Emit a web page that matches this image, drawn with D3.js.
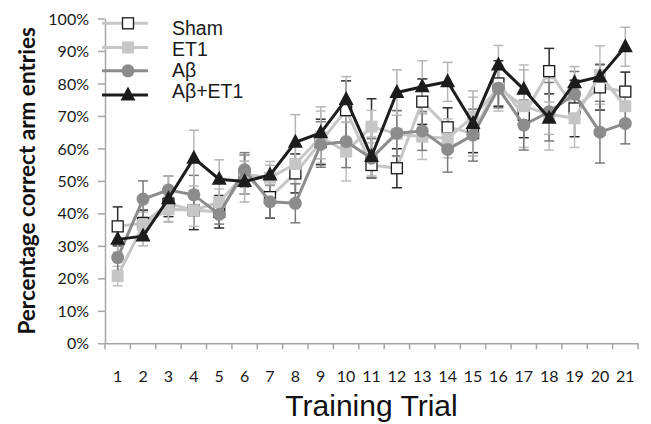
<!DOCTYPE html>
<html>
<head>
<meta charset="utf-8">
<script src="https://cdn.jsdelivr.net/npm/d3@7/dist/d3.min.js"></script>
<style>
  body { margin: 0; background: #fff; }
  svg { display: block; }
  .tickLabel { font-family: Lato, "Open Sans", sans-serif; font-size: 16px; fill: #1a1a1a; }
</style>
</head>
<body>
<svg id="chart" width="651" height="424"></svg>
<script>
// trials on the x axis
let trials = d3.range(1, 22).map(String);

// percentage correct arm entries (means) per group
let sham   = [36, 37, 43, 41, 40.5, 52, 45, 52.3, 62, 71.8, 54.9, 53.9, 74.4, 66.5, 64.7, 80, 70.3, 83.8, 72.3, 78.8, 77.5];
let et1    = [20.7, 36.4, 41.3, 41, 43.5, 52, 51, 55.2, 63.5, 59, 66.7, 64.5, 63.6, 63.1, 69.8, 78.5, 73, 70.5, 69.3, 82.6, 73];
let ab     = [26.4, 44.4, 47.2, 45.7, 39.7, 53.4, 43.6, 43.1, 61.2, 62.1, 57, 64.7, 65.4, 59.7, 64.1, 78.5, 67.2, 71.3, 76.7, 65, 67.7];
let abEt1  = [32, 33, 44.5, 57, 50.5, 49.8, 51.8, 61.9, 64.8, 75.1, 57.5, 77.2, 79, 80.5, 67.7, 85.7, 78.2, 69.3, 80.2, 82.1, 91.3];

// error bars (SEM); sham has an uneven bar at trial 11
let shamErrUp   = [6, 4, 4, 6, 5, 6, 6.5, 6, 7, 9, 20.4, 6, 7, 6, 6, 7, 7, 7, 8.7, 7, 6];
let shamErrDown = [6, 4, 4, 6, 5, 6, 6.5, 6, 7, 9, 4, 6, 7, 6, 6, 7, 7, 7, 8.7, 7, 6];
let et1Err   = [3, 4, 4, 5, 4, 6, 5, 6, 8, 9, 5, 7, 7, 6, 6, 7, 12.7, 11, 9, 9, 6];
let abErr    = [4, 5.6, 4.3, 6, 3, 5.3, 5, 6, 7, 8, 6, 7, 6, 7, 8, 6, 7.7, 9, 7, 9.5, 6.3];
let abEt1Err = [4, 3, 7, 8.6, 6, 6.3, 3, 8.5, 8, 7, 6, 7, 8, 6, 10, 6, 6, 5, 5, 4, 6];

let yTicks = d3.range(0, 101, 10);

let series = [
  {name: 'Sham',   values: sham,  up: shamErrUp, down: shamErrDown, line: '#c6c6c6', bar: '#2b2b2b', marker: 'squareOpen'},
  {name: 'ET1',    values: et1,   up: et1Err,   down: et1Err,   line: '#c6c6c6', bar: '#bdbdbd', marker: 'square'},
  {name: 'A\u03b2',     values: ab,    up: abErr,    down: abErr,    line: '#8c8c8c', bar: '#7a7a7a', marker: 'circle'},
  {name: 'A\u03b2+ET1', values: abEt1, up: abEt1Err, down: abEt1Err, line: '#1c1c1c', bar: '#b5b5b5', marker: 'triangle'}
];

let margin = {left: 105, right: 13, top: 18.5, bottom: 80.7};
let width = 651 - margin.left - margin.right,
    height = 424 - margin.top - margin.bottom;

let svg = d3.select('#chart');
let g = svg.append('g').attr('transform', 'translate(' + margin.left + ',' + margin.top + ')');

let x = d3.scaleBand().domain(trials).range([0, width]).padding(0);
let y = d3.scaleLinear().domain([0, 100]).range([height, 0]);
let cx = function(d) { return x(d) + x.bandwidth() / 2; };

// y axis
let yAxis = g.append('g')
  .call(d3.axisLeft(y).tickValues(yTicks).tickSize(7).tickSizeOuter(0).tickFormat(d => d + '%'));
yAxis.select('.domain').attr('stroke', '#a6a6a6').attr('stroke-width', 1.5);
yAxis.selectAll('.tick line').attr('stroke', '#a6a6a6').attr('stroke-width', 1.5);
yAxis.selectAll('.tick text').attr('class', 'tickLabel').attr('x', -16).attr('dy', '0.35em');

// x axis: labels centred in band, tick marks on band edges
let xAxis = g.append('g').attr('transform', 'translate(0,' + height + ')')
  .call(d3.axisBottom(x).tickSize(0).tickSizeOuter(0));
xAxis.select('.domain').attr('stroke', '#a6a6a6').attr('stroke-width', 1.5);
xAxis.selectAll('.tick text').attr('class', 'tickLabel').attr('y', 33).attr('dy', '0.35em');
let edges = trials.map(d => x(d)).concat([width]);
xAxis.selectAll('.edge').data(edges).enter().append('line')
  .attr('x1', d => d).attr('x2', d => d)
  .attr('y1', 0).attr('y2', 6)
  .attr('stroke', '#a6a6a6').attr('stroke-width', 1.5);

// error bars first
series.forEach(function(s) {
  let eg = g.append('g');
  trials.forEach(function(t, i) {
    let v = s.values[i];
    let lo = v - s.down[i], hi = v + s.up[i];
    let px = cx(t);
    eg.append('line').attr('x1', px).attr('x2', px)
      .attr('y1', y(lo)).attr('y2', y(hi))
      .attr('stroke', s.bar).attr('stroke-width', 1.5);
    [lo, hi].forEach(function(c) {
      eg.append('line').attr('x1', px - 5).attr('x2', px + 5)
        .attr('y1', y(c)).attr('y2', y(c))
        .attr('stroke', s.bar).attr('stroke-width', 1.5);
    });
  });
});

function drawMarker(sel, type, px, py) {
  if (type == 'squareOpen') {
    sel.append('rect').attr('x', px - 5.5).attr('y', py - 5.5).attr('width', 11).attr('height', 11)
      .attr('fill', '#fff').attr('stroke', '#1a1a1a').attr('stroke-width', 1.3);
  } else if (type == 'square') {
    sel.append('rect').attr('x', px - 6).attr('y', py - 6).attr('width', 12).attr('height', 12)
      .attr('fill', '#c6c6c6');
  } else if (type == 'circle') {
    sel.append('circle').attr('cx', px).attr('cy', py).attr('r', 6.5).attr('fill', '#8c8c8c');
  } else {
    sel.append('path')
      .attr('d', 'M' + px + ',' + (py - 8.5) + 'L' + (px + 7.5) + ',' + (py + 5.5) + 'L' + (px - 7.5) + ',' + (py + 5.5) + 'Z')
      .attr('fill', '#1c1c1c');
  }
}

let line = d3.line().x(d => cx(d[0])).y(d => y(d[1]));

series.forEach(function(s) {
  let sg = g.append('g');
  sg.append('path')
    .datum(trials.map((t, i) => [t, s.values[i]]))
    .attr('d', line)
    .attr('fill', 'none')
    .attr('stroke', s.line)
    .attr('stroke-width', 3)
    .attr('stroke-linejoin', 'round');
  trials.forEach(function(t, i) {
    drawMarker(sg, s.marker, cx(t), y(s.values[i]));
  });
});

// legend
let legLines = [23.3, 47.5, 70.8, 95];
let legText = [34.5, 56, 76.5, 98];
let legend = svg.append('g');
series.forEach(function(s, i) {
  legend.append('line').attr('x1', 102).attr('x2', 148)
    .attr('y1', legLines[i]).attr('y2', legLines[i])
    .attr('stroke', s.line).attr('stroke-width', 3);
  drawMarker(legend, s.marker, 128, legLines[i]);
  legend.append('text')
    .attr('x', 172).attr('y', legText[i])
    .attr('font-family', '"Liberation Sans", Arial, sans-serif')
    .attr('font-size', 19.5)
    .attr('fill', '#1a1a1a')
    .text(s.name);
});

// axis titles
svg.append('text')
  .attr('transform', 'translate(35,' + (margin.top + height / 2) + ') rotate(-90)')
  .attr('text-anchor', 'middle')
  .attr('font-family', 'Lato, "Open Sans", sans-serif')
  .attr('font-weight', 'bold')
  .attr('font-size', 22.5)
  .attr('fill', '#111')
  .text('Percentage correct arm entries');

svg.append('text')
  .attr('x', margin.left + width / 2)
  .attr('y', 416)
  .attr('text-anchor', 'middle')
  .attr('font-family', '"Liberation Sans", Arial, sans-serif')
  .attr('font-size', 30)
  .attr('fill', '#111')
  .text('Training Trial');
</script>
</body>
</html>
